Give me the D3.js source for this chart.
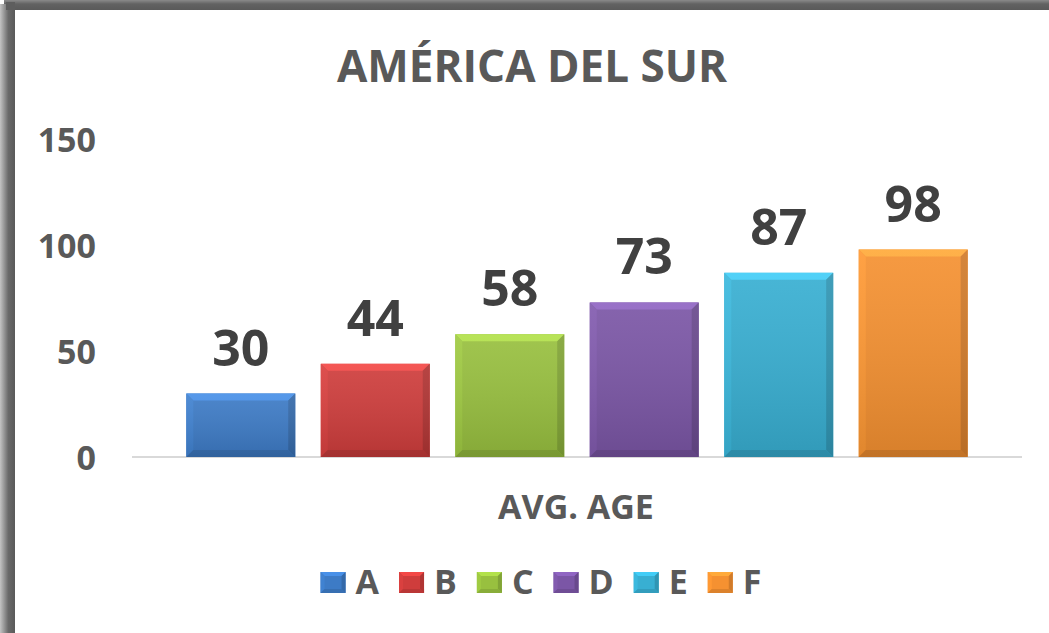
<!DOCTYPE html>
<html>
<head>
<meta charset="utf-8">
<script src="https://cdn.jsdelivr.net/npm/d3@7"></script>
<style>
  html, body { margin: 0; padding: 0; background: #fff; }
  svg { display: block; font-family: "Open Sans", "DejaVu Sans", sans-serif; }
</style>
</head>
<body>
<svg id="chart" width="1049" height="633"></svg>
<script>
// data
const groupName = ["AVG. AGE"];
const categories = ["A", "B", "C", "D", "E", "F"];
const values = [30, 44, 58, 73, 87, 98];
const yTicks = [0, 50, 100, 150];
const colors = ["#3d7bc6", "#cf3d3c", "#98c03f", "#7b56a6", "#38afd2", "#f59131"];
const title = "AMÉRICA DEL SUR";

const W = 1049, H = 633;
const svg = d3.select("#chart");
const defs = svg.append("defs");

// frame (dark border on top and left)
const gl = defs.append("linearGradient").attr("id", "frameL").attr("x1", 0).attr("x2", 1).attr("y1", 0).attr("y2", 0);
gl.append("stop").attr("offset", 0).attr("stop-color", "#c4c4c4");
gl.append("stop").attr("offset", 0.55).attr("stop-color", "#6a6a6a");
gl.append("stop").attr("offset", 1).attr("stop-color", "#5a5a5a");
const gt = defs.append("linearGradient").attr("id", "frameT").attr("x1", 0).attr("x2", 0).attr("y1", 0).attr("y2", 1);
gt.append("stop").attr("offset", 0).attr("stop-color", "#8a8a8a");
gt.append("stop").attr("offset", 0.4).attr("stop-color", "#626262");
gt.append("stop").attr("offset", 1).attr("stop-color", "#5a5a5a");
svg.append("rect").attr("x", 4).attr("y", 0).attr("width", W).attr("height", 10).attr("fill", "url(#frameT)");
svg.append("rect").attr("x", 0).attr("y", 4).attr("width", 15).attr("height", H).attr("fill", "url(#frameL)");
svg.append("rect").attr("x", 6).attr("y", 2).attr("width", 9).attr("height", 8).attr("fill", "#5e5e5e");

// scales
const plotL = 132, plotR = 1022, baseY = 457, topY = 139.5;
const y = d3.scaleLinear().domain([0, 150]).range([baseY, topY]);
const x0 = d3.scaleBand().domain(groupName).range([plotL, plotR]).padding(0.065);
const x1 = d3.scaleBand().domain(categories).range([0, x0.bandwidth()]).paddingInner(0.19).paddingOuter(0);

// title
svg.append("text")
  .attr("x", 532).attr("y", 82)
  .attr("text-anchor", "middle")
  .attr("font-size", 44).attr("font-weight", "bold")
  .attr("fill", "#595959")
  .text(title);

// y axis labels
const yAxis = svg.append("g").attr("transform", "translate(96,0)")
  .call(d3.axisLeft(y).tickValues(yTicks).tickSize(0).tickPadding(0));
yAxis.select(".domain").remove();
yAxis.selectAll("text")
  .attr("font-family", "Open Sans, sans-serif")
  .attr("font-size", 34).attr("font-weight", "bold")
  .attr("fill", "#595959").attr("dy", "0.36em");

// baseline
svg.append("line")
  .attr("x1", plotL).attr("x2", plotR).attr("y1", y(0)).attr("y2", y(0))
  .attr("stroke", "#d9d9d9").attr("stroke-width", 2);

// beveled bar helper
function bevelBar(g, x, yt, w, h, col, b) {
  const c = d3.color(col);
  g.append("rect").attr("x", x).attr("y", yt).attr("width", w).attr("height", h).attr("fill", col);
  g.append("polygon")
    .attr("points", [[x, yt], [x + w, yt], [x + w - b, yt + b], [x + b, yt + b]].join(" "))
    .attr("fill", c.brighter(0.45));
  g.append("polygon")
    .attr("points", [[x, yt], [x + b, yt + b], [x + b, yt + h - b], [x, yt + h]].join(" "))
    .attr("fill", c.brighter(0.15));
  g.append("polygon")
    .attr("points", [[x + w, yt], [x + w, yt + h], [x + w - b, yt + h - b], [x + w - b, yt + b]].join(" "))
    .attr("fill", c.darker(0.45));
  g.append("polygon")
    .attr("points", [[x, yt + h], [x + w, yt + h], [x + w - b, yt + h - b], [x + b, yt + h - b]].join(" "))
    .attr("fill", c.darker(0.3));
}

// gradient overlay for bars
const shade = defs.append("linearGradient").attr("id", "shade").attr("x1", 0).attr("x2", 0).attr("y1", 0).attr("y2", 1);
shade.append("stop").attr("offset", 0).attr("stop-color", "#fff").attr("stop-opacity", 0.08);
shade.append("stop").attr("offset", 1).attr("stop-color", "#000").attr("stop-opacity", 0.12);

// bars
const gx = x0(groupName[0]);
const bars = svg.append("g");
categories.forEach((c, i) => {
  const bx = gx + x1(c), bw = x1.bandwidth();
  const by = y(values[i]), bh = y(0) - y(values[i]);
  const g = bars.append("g");
  bevelBar(g, bx, by, bw, bh, colors[i], 7);
  g.append("rect").attr("x", bx).attr("y", by).attr("width", bw).attr("height", bh).attr("fill", "url(#shade)");
});

// data labels
svg.append("g").selectAll("text")
  .data(values)
  .join("text")
  .attr("x", (d, i) => gx + x1(categories[i]) + x1.bandwidth() / 2)
  .attr("y", d => y(d) - 28)
  .attr("text-anchor", "middle")
  .attr("font-size", 50).attr("font-weight", "bold")
  .attr("fill", "#404040")
  .text(d => d);

// category label
svg.append("text")
  .attr("x", 576).attr("y", 519)
  .attr("text-anchor", "middle")
  .attr("font-size", 34).attr("font-weight", "bold")
  .attr("fill", "#595959")
  .text(groupName[0]);

// legend
const legend = svg.append("g");
let lx = 0;
categories.forEach((c, i) => {
  const item = legend.append("g").attr("transform", `translate(${lx},0)`);
  bevelBar(item, 0, 572, 25, 21, colors[i], 4);
  const t = item.append("text")
    .attr("x", 35).attr("y", 594)
    .attr("font-size", 34).attr("font-weight", "bold")
    .attr("fill", "#595959")
    .text(c);
  lx += 35 + t.node().getComputedTextLength() + 20;
});
const lw = lx - 20;
legend.attr("transform", `translate(${541 - lw / 2},0)`);
</script>
</body>
</html>
